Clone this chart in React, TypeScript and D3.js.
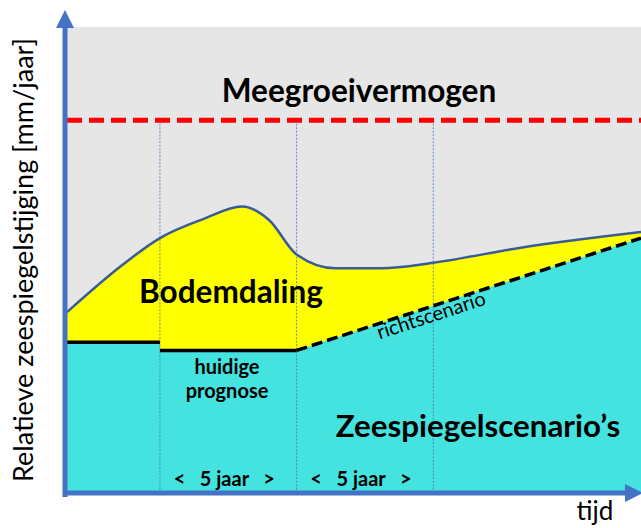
import React from 'react';
import * as d3 from 'd3';

// time in years, value in mm/jaar (schematic)
const curveT = [0, 2, 3.4, 5, 6.4, 7.4, 8.4, 9.8, 11.5, 13.4, 16.6, 21];
const curveV = [6.6, 8.3, 9.3, 10.0, 10.45, 9.95, 8.7, 8.2, 8.2, 8.4, 8.95, 9.52];

const progT = [0, 3.4, 3.4, 8.4];
const progV = [5.5, 5.5, 5.2, 5.2];

const richtT = [8.4, 21];
const richtV = [5.2, 9.3];

const groeiV = 13.6;
const gridT = [3.4, 8.4, 13.4];
const periodLabels = ['<   5 jaar   >', '<   5 jaar   >'];

const W = 641;
const H = 528;
const font = 'Lato, "Open Sans", sans-serif';

const x = d3.scaleLinear().domain([0, 21]).range([67, 641]);
const y = d3.scaleLinear().domain([0, 17]).range([493, 27]);

export default function App() {
  const curveData = curveT.map((t, i) => [t, curveV[i]] as [number, number]);
  const baseData: [number, number][] = [
    ...progT.map((t, i) => [t, progV[i]] as [number, number]),
    ...richtT.slice(1).map((t, i) => [t, richtV[i + 1]] as [number, number]),
  ];

  const line = d3.line<[number, number]>().x(d => x(d[0])).y(d => y(d[1])).curve(d3.curveMonotoneX);
  const area = d3.area<[number, number]>().x(d => x(d[0])).y0(y(0)).y1(d => y(d[1])).curve(d3.curveMonotoneX);
  const baseArea = d3.area<[number, number]>().x(d => x(d[0])).y0(y(0)).y1(d => y(d[1]));
  const straight = d3.line<[number, number]>().x(d => x(d[0])).y(d => y(d[1]));

  const rx0 = x(richtT[0]), ry0 = y(richtV[0]), rx1 = x(richtT[1]), ry1 = y(richtV[1]);
  const angle = (Math.atan2(ry1 - ry0, rx1 - rx0) * 180) / Math.PI;
  const midT = 13.4;
  const midV = richtV[0] + ((richtV[1] - richtV[0]) * (midT - richtT[0])) / (richtT[1] - richtT[0]);

  return (
    <svg width={W} height={H} style={{ position: 'absolute', left: 0, top: 0 }}>
      <rect x={x(0)} y={y(17)} width={x(21) - x(0)} height={y(0) - y(17)} fill="#e6e6e6" />
      <path d={area(curveData) || ''} fill="#ffff00" />
      <path d={baseArea(baseData) || ''} fill="#45e3df" />
      <path d={line(curveData) || ''} fill="none" stroke="#3a5c94" strokeWidth={2.5} />

      {gridT.map(t => (
        <line key={t} x1={x(t)} x2={x(t)} y1={y(groeiV)} y2={y(0)} stroke="#4472c4" strokeWidth={0.8} strokeDasharray="2,1.5" />
      ))}

      <line x1={x(0)} x2={x(21)} y1={y(groeiV)} y2={y(groeiV)} stroke="#ff0000" strokeWidth={5} strokeDasharray="15,7" />

      <path d={straight([[progT[0], progV[0]], [progT[1], progV[1]]]) || ''} stroke="#000" strokeWidth={3.5} fill="none" />
      <path d={straight([[progT[2], progV[2]], [progT[3], progV[3]]]) || ''} stroke="#000" strokeWidth={3.5} fill="none" />
      <path d={straight(richtT.map((t, i) => [t, richtV[i]] as [number, number])) || ''} stroke="#000" strokeWidth={3.5} strokeDasharray="11,5" fill="none" />

      {/* axes */}
      <line x1={x(0) - 2} x2={x(0) - 2} y1={y(0) + 4} y2={26} stroke="#4472c4" strokeWidth={5} />
      <path d={`M${x(0) - 11},28 L${x(0) - 2},10 L${x(0) + 7},28 Z`} fill="#4472c4" />
      <line x1={x(0) - 4} x2={628} y1={y(0)} y2={y(0)} stroke="#4472c4" strokeWidth={5} />
      <path d={`M625,${y(0) - 9} L643,${y(0)} L625,${y(0) + 9} Z`} fill="#4472c4" />

      <g fontFamily={font} fill="#000">
        <text x={359} y={102} fontSize={31.6} fontWeight="bold" textAnchor="middle">Meegroeivermogen</text>
        <text x={231} y={303} fontSize={31.5} fontWeight="bold" textAnchor="middle">Bodemdaling</text>
        <text x={227} y={374} fontSize={20} fontWeight="bold" textAnchor="middle">huidige</text>
        <text x={227} y={398} fontSize={20} fontWeight="bold" textAnchor="middle">prognose</text>
        <text x={478} y={437} fontSize={31.3} fontWeight="bold" textAnchor="middle">Zeespiegelscenario’s</text>
        {periodLabels.map((s, i) => (
          <text key={i} x={(x(gridT[i]) + x(gridT[i + 1])) / 2 - 4} y={486} fontSize={20} fontWeight="bold" textAnchor="middle" style={{ whiteSpace: 'pre' }}>{s}</text>
        ))}
        <text
          transform={`translate(${x(midT)},${y(midV) + 16}) rotate(${angle})`}
          fontSize={20}
          textAnchor="middle"
        >richtscenario</text>
        <text x={595} y={520} fontSize={26} textAnchor="middle">tijd</text>
        <text transform="translate(33,260) rotate(-90)" fontSize={27} textAnchor="middle">Relatieve zeespiegelstijging [mm/jaar]</text>
      </g>
    </svg>
  );
}
